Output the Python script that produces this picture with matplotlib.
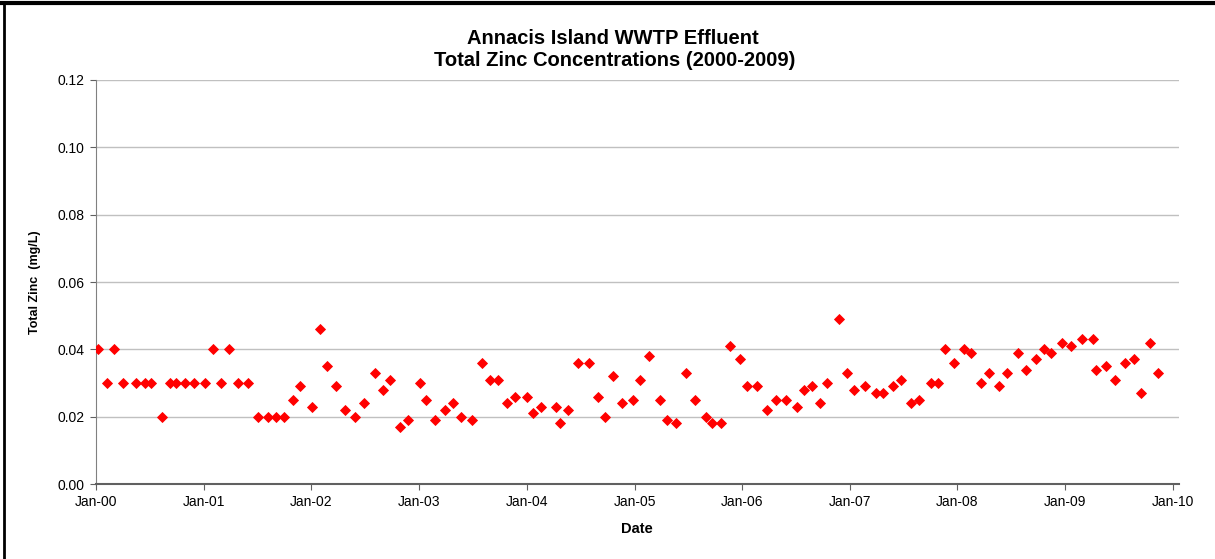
import matplotlib
matplotlib.use("Agg")
import matplotlib.pyplot as plt
import matplotlib.dates as mdates
from matplotlib.lines import Line2D
import pandas as pd

plt.rcParams['font.family'] = ['Liberation Sans', 'DejaVu Sans']

# sample dates and total zinc (mg/L)
sample_dates = [
    "2000-01-09", "2000-02-06", "2000-03-02", "2000-04-01", "2000-05-15", "2000-06-14",
    "2000-07-07", "2000-08-11", "2000-09-08", "2000-09-29", "2000-10-29", "2000-11-29",
    "2001-01-05", "2001-02-01", "2001-02-28", "2001-03-28", "2001-04-28", "2001-06-01",
    "2001-07-03", "2001-08-06", "2001-09-03", "2001-09-29", "2001-10-31", "2001-11-24",
    "2002-01-03", "2002-01-30", "2002-02-24", "2002-03-25", "2002-04-25", "2002-05-29",
    "2002-06-29", "2002-08-05", "2002-09-02", "2002-09-25", "2002-10-28", "2002-11-25",
    "2003-01-04", "2003-01-25", "2003-02-25", "2003-03-31", "2003-04-26", "2003-05-24",
    "2003-06-29", "2003-08-04", "2003-08-28", "2003-09-27", "2003-10-26", "2003-11-22",
    "2004-01-02", "2004-01-21", "2004-02-19", "2004-04-08", "2004-04-23", "2004-05-20",
    "2004-06-24", "2004-07-31", "2004-08-31", "2004-09-23", "2004-10-21", "2004-11-19",
    "2004-12-28", "2005-01-20", "2005-02-19", "2005-03-29", "2005-04-20", "2005-05-20",
    "2005-06-24", "2005-07-25", "2005-08-31", "2005-09-21", "2005-10-21", "2005-11-21",
    "2005-12-26", "2006-01-17", "2006-02-21", "2006-03-25", "2006-04-24", "2006-05-30",
    "2006-07-05", "2006-07-28", "2006-08-27", "2006-09-23", "2006-10-17", "2006-11-24",
    "2006-12-24", "2007-01-15", "2007-02-23", "2007-03-30", "2007-04-22", "2007-05-27",
    "2007-06-22", "2007-07-26", "2007-08-25", "2007-10-04", "2007-10-28", "2007-11-19",
    "2007-12-20", "2008-01-24", "2008-02-15", "2008-03-22", "2008-04-18", "2008-05-21",
    "2008-06-18", "2008-07-25", "2008-08-19", "2008-09-24", "2008-10-21", "2008-11-13",
    "2008-12-22", "2009-01-21", "2009-02-26", "2009-04-04", "2009-04-15", "2009-05-20",
    "2009-06-18", "2009-07-23", "2009-08-21", "2009-09-16", "2009-10-15", "2009-11-12",
]
zinc = [
    0.040, 0.030, 0.040, 0.030, 0.030, 0.030, 0.030, 0.020, 0.030, 0.030, 0.030, 0.030,
    0.030, 0.040, 0.030, 0.040, 0.030, 0.030, 0.020, 0.020, 0.020, 0.020, 0.025, 0.029,
    0.023, 0.046, 0.035, 0.029, 0.022, 0.020, 0.024, 0.033, 0.028, 0.031, 0.017, 0.019,
    0.030, 0.025, 0.019, 0.022, 0.024, 0.020, 0.019, 0.036, 0.031, 0.031, 0.024, 0.026,
    0.026, 0.021, 0.023, 0.023, 0.018, 0.022, 0.036, 0.036, 0.026, 0.020, 0.032, 0.024,
    0.025, 0.031, 0.038, 0.025, 0.019, 0.018, 0.033, 0.025, 0.020, 0.018, 0.018, 0.041,
    0.037, 0.029, 0.029, 0.022, 0.025, 0.025, 0.023, 0.028, 0.029, 0.024, 0.030, 0.049,
    0.033, 0.028, 0.029, 0.027, 0.027, 0.029, 0.031, 0.024, 0.025, 0.030, 0.030, 0.040,
    0.036, 0.040, 0.039, 0.030, 0.033, 0.029, 0.033, 0.039, 0.034, 0.037, 0.040, 0.039,
    0.042, 0.041, 0.043, 0.043, 0.034, 0.035, 0.031, 0.036, 0.037, 0.027, 0.042, 0.033,
]
y_ticks = [0.00, 0.02, 0.04, 0.06, 0.08, 0.10, 0.12]

dates = pd.to_datetime(sample_dates)

fig = plt.figure(figsize=(12.15, 5.59), dpi=100)
ax = fig.add_axes([0.079, 0.134, 0.891, 0.723])

ax.plot(dates, zinc, linestyle='none', marker='D', markersize=4.6,
        color='#FF0000', markeredgecolor='#FF0000', markeredgewidth=0.6, zorder=3)

ax.set_xlim(pd.Timestamp("2000-01-01"), pd.Timestamp("2010-01-20"))
ax.set_ylim(0, 0.12)
ax.set_yticks(y_ticks)
ax.yaxis.set_major_formatter(plt.FormatStrFormatter('%.2f'))
ax.xaxis.set_major_locator(mdates.YearLocator())
ax.xaxis.set_major_formatter(mdates.DateFormatter('%b-%y'))

ax.grid(axis='y', color='#C0C0C0', linewidth=1)
ax.set_axisbelow(True)
for s in ['top', 'right']:
    ax.spines[s].set_visible(False)
ax.spines['left'].set_color('#808080')
ax.spines['bottom'].set_color('#606060')
ax.spines['bottom'].set_linewidth(1.5)
ax.tick_params(axis='both', labelsize=10, length=4, color='#606060', pad=4)

ax.set_xlabel("Date", fontsize=10.5, fontweight='bold', labelpad=9)
ax.set_ylabel("Total Zinc  (mg/L)", fontsize=9, fontweight='bold', labelpad=12)

fig.text(0.504, 0.932, "Annacis Island WWTP Effluent", ha='center', va='center',
         fontsize=14.5, fontweight='bold')
fig.text(0.506, 0.891, "Total Zinc Concentrations (2000-2009)", ha='center', va='center',
         fontsize=14.5, fontweight='bold')

# outer frame (top and left edges visible in the source)
fig.add_artist(Line2D([0.003, 0.003], [0, 0.995], transform=fig.transFigure, color='black', linewidth=2))
fig.add_artist(Line2D([0.002, 1], [0.995, 0.995], transform=fig.transFigure, color='black', linewidth=3))

fig.savefig("out.png", dpi=100)
